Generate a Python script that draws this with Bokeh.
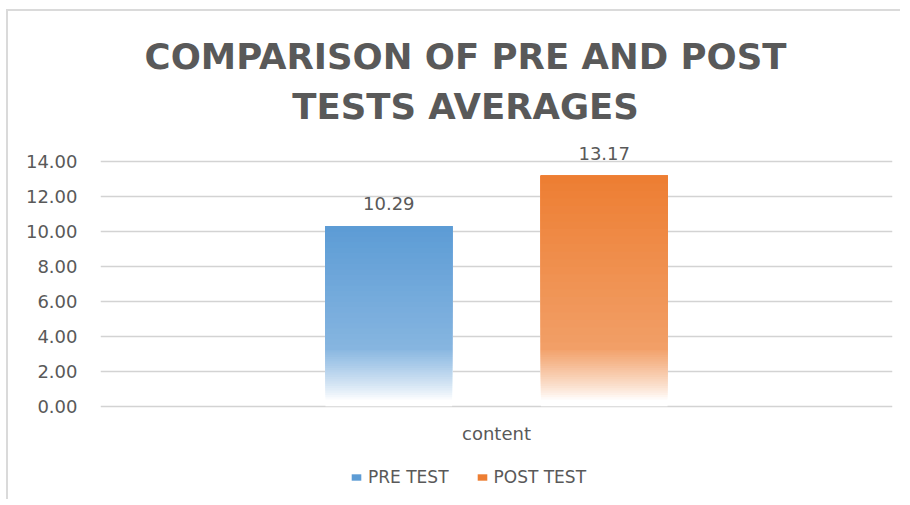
import numpy as np
from bokeh.plotting import figure
from bokeh.models import (ColumnDataSource, FactorRange, Range1d, FixedTicker, Label,
                          Legend, LegendItem, NumeralTickFormatter)
from bokeh.transform import dodge
from bokeh.embed import file_html
from bokeh.resources import INLINE
from bokeh.core.properties import value

# ---- data ----
title_lines = ["COMPARISON OF PRE AND POST", "TESTS AVERAGES"]
categories = ["content"]
series_names = ["PRE TEST", "POST TEST"]
series_values = [10.29, 13.17]
series_colors = ["#5b9bd5", "#ed7d31"]
y_ticks = [0, 2, 4, 6, 8, 10, 12, 14]

# ---- style ----
TEXT = "#595959"
GRID = "#d3d3d3"
FONT = "DejaVu Sans"
FADE_LEVEL = 3.2
offsets = [-0.136, 0.136]
BAR_W = 0.16
PX_PER_UNIT = 17.5
ZERO_Y = 405.7          # page y of value 0
FRAME_TOP = 12          # page y of frame top
FRAME_H = 488
y_top = (ZERO_Y - FRAME_TOP) / PX_PER_UNIT
y_bot = y_top - FRAME_H / PX_PER_UNIT


def page_to_val(py):
    return (ZERO_Y - py) / PX_PER_UNIT


def mix_white(c, w):
    rgb = [int(c[i:i + 2], 16) for i in (1, 3, 5)]
    return "#%02x%02x%02x" % tuple(int(round(v + (255 - v) * w)) for v in rgb)


p = figure(width=894, height=FRAME_H + 2, x_range=FactorRange(*categories),
           y_range=Range1d(y_bot, y_top), output_backend="svg", toolbar_location=None,
           min_border_left=92, min_border_right=10, min_border_top=1,
           min_border_bottom=1)
p.styles = {"margin-left": "6px", "margin-top": "9px",
            "border-left": "2px solid #dadada", "border-top": "2px solid #dadada"}
p.outline_line_color = None
p.background_fill_color = "white"
p.border_fill_color = "white"

p.xgrid.grid_line_color = None
p.ygrid.ticker = FixedTicker(ticks=y_ticks)
p.ygrid.grid_line_color = GRID
p.ygrid.grid_line_width = 1.4

p.yaxis.ticker = FixedTicker(ticks=y_ticks)
p.yaxis.formatter = NumeralTickFormatter(format="0.00")
p.yaxis.axis_line_color = None
p.yaxis.major_tick_line_color = None
p.yaxis.minor_tick_line_color = None
p.yaxis.major_tick_out = 0
p.yaxis.major_label_standoff = 23
p.yaxis.major_label_text_font = FONT
p.yaxis.major_label_text_font_size = "18px"
p.yaxis.major_label_text_color = TEXT

p.xaxis.visible = False

items = []
for name, val, col, off in zip(series_names, series_values, series_colors, offsets):
    lower = np.linspace(0, FADE_LEVEL, 26)[:-1]
    lower_w = 1.0 - 0.72 * np.clip((lower - 0.3) / (FADE_LEVEL - 0.3), 0, 1) ** 0.85
    upper = np.linspace(FADE_LEVEL, val, 24)[:-1]
    upper_w = 0.26 * (1 - (upper - FADE_LEVEL) / (val - FADE_LEVEL))
    bottoms = list(lower) + list(upper)
    whites = list(lower_w) + list(upper_w)
    src = ColumnDataSource(dict(
        x=[categories[0]] * len(bottoms),
        bottom=bottoms,
        top=[val] * len(bottoms),
        color=[mix_white(col, w) for w in whites],
    ))
    r = p.vbar(x=dodge("x", off, range=p.x_range), bottom="bottom", top="top",
               width=BAR_W, fill_color="color", line_color=None, source=src)
    items.append(LegendItem(label=name, renderers=[r], index=len(bottoms) - 1))

    lsrc = ColumnDataSource(dict(x=[categories[0]], y=[val], t=[f"{val:.2f}"]))
    p.text(x=dodge("x", off, range=p.x_range), y="y", text="t", source=lsrc,
           y_offset=-22.5, text_align="center", text_baseline="middle",
           text_font=value(FONT), text_font_size="18px", text_color=TEXT)

# category label (in place of the x axis)
csrc = ColumnDataSource(dict(x=categories, y=[page_to_val(432.5)] * len(categories)))
p.text(x="x", y="y", text="x", source=csrc, text_align="center",
       text_baseline="middle", text_font=value(FONT), text_font_size="18px",
       text_color=TEXT)

legend = Legend(items=items, orientation="horizontal", location=(250, 13),
                padding=0, margin=0, spacing=27, label_standoff=6,
                glyph_width=12, glyph_height=8, label_height=20,
                border_line_color=None, background_fill_alpha=0,
                label_text_font=FONT, label_text_font_size="17px",
                label_text_color=TEXT)
p.add_layout(legend, "center")

for line, mid in zip(title_lines, [56.0, 106.0]):
    p.add_layout(Label(x=0.4609, y=page_to_val(mid), text=line, text_align="center",
                       text_baseline="middle", text_font=FONT,
                       text_font_style="bold", text_font_size="35.5px",
                       text_color=TEXT))

open("out.html", "w").write(file_html(p, INLINE))
